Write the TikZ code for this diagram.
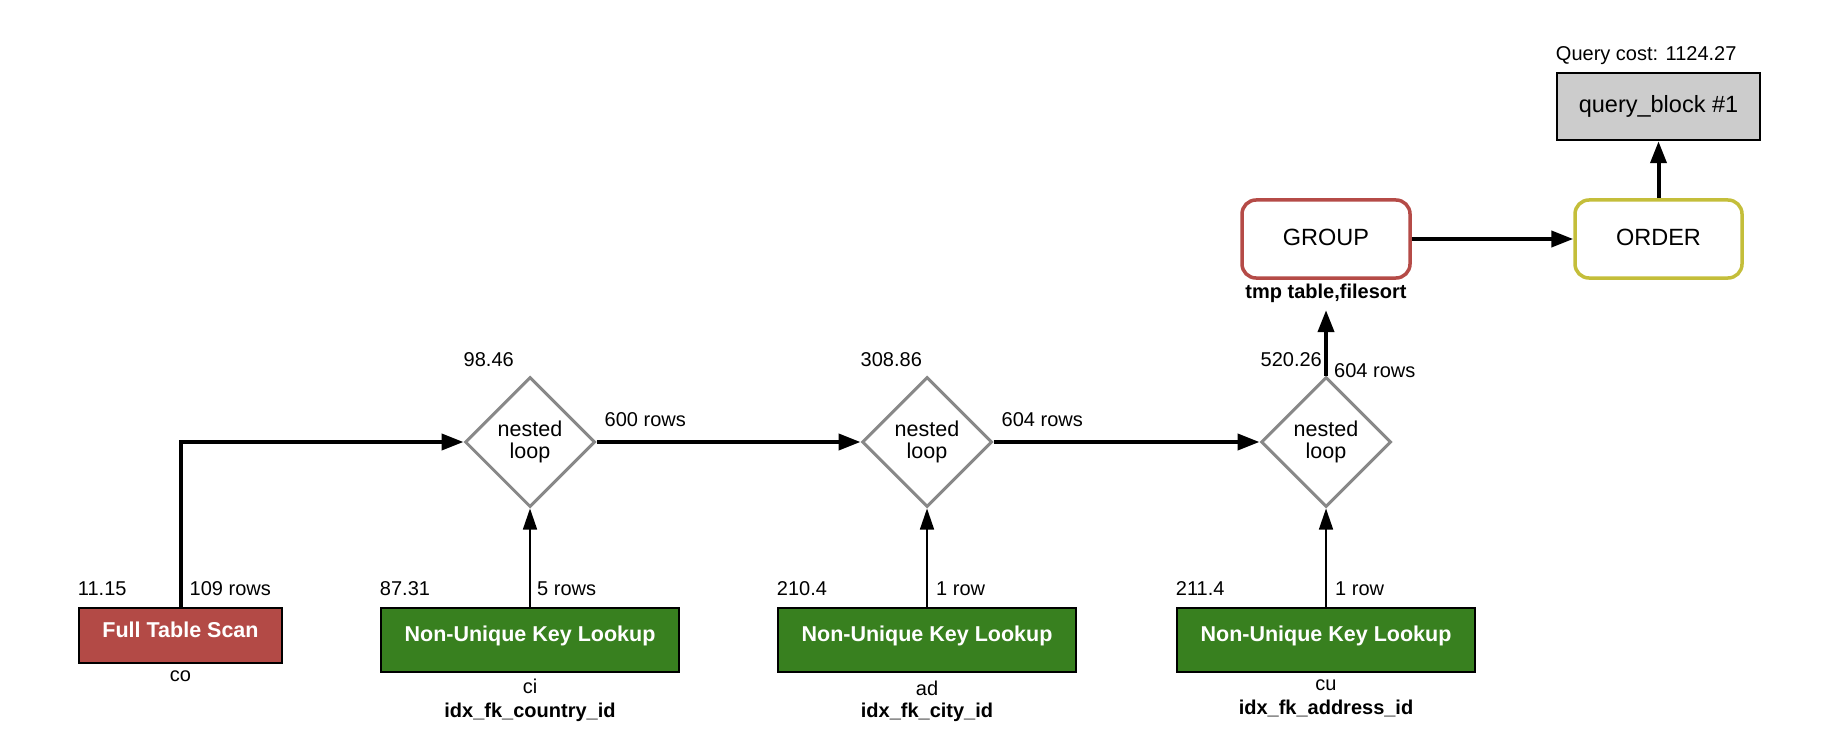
\documentclass[tikz,border=0pt]{standalone}
\usepackage{fontspec}
\setmainfont{Liberation Sans}
\usetikzlibrary{arrows.meta,shapes.geometric,positioning}
\definecolor{scanred}{HTML}{B34A46}
\definecolor{lookupgreen}{HTML}{38801F}
\definecolor{groupred}{HTML}{B54B47}
\definecolor{orderyellow}{HTML}{C4BE3A}
\definecolor{loopgray}{HTML}{888888}
\definecolor{blockgray}{HTML}{CCCCCC}
\def\lblfont{\fontsize{20pt}{22pt}\selectfont}
\tikzset{
	scanbox/.style={draw=black, line width=2.5pt, fill=scanred, text=white, font=\fontsize{21.5pt}{24pt}\selectfont\bfseries, minimum width=203pt, minimum height=55pt, inner sep=0pt, text depth=11pt},
	lookupbox/.style={draw=black, line width=2.5pt, fill=lookupgreen, text=white, font=\fontsize{21.5pt}{24pt}\selectfont\bfseries, minimum width=298pt, minimum height=64pt, inner sep=0pt, text depth=12.5pt},
	loopnode/.style={diamond, aspect=1, draw=loopgray, line width=3pt, align=center, font=\fontsize{21.5pt}{21.7pt}\selectfont, minimum width=130pt, minimum height=130pt, inner sep=0pt},
	opbox/.style={rounded corners=14pt, line width=3.5pt, fill=white, font=\fontsize{23.5pt}{26pt}\selectfont, minimum width=168pt, minimum height=78pt, inner sep=0pt, text depth=4pt},
	blockbox/.style={draw=black, line width=2.5pt, fill=blockgray, font=\fontsize{23.5pt}{26pt}\selectfont, minimum width=203pt, minimum height=67pt, inner sep=0pt},
	costlbl/.style={font=\lblfont, inner sep=0pt},
	tbllbl/.style={font=\lblfont, inner sep=0pt, anchor=base},
	keylbl/.style={font=\lblfont\bfseries, inner sep=0pt, anchor=base},
	thickline/.style={line width=4pt, -{Triangle[length=22pt,width=16pt]}},
	thinline/.style={line width=1.5pt, -{Triangle[length=21pt,width=14pt]}}
}

\begin{document}
\begin{tikzpicture}[x=1pt, y=-1pt]
			%%%%% START %%%%%
			\useasboundingbox (0,0) rectangle (1822,746);
			
			% top of the plan
			\node[blockbox] (qblock) at (1658.5, 106.5) {query\_block \#1};
			\node[costlbl, anchor=west] (qcost) at ([yshift=16pt]qblock.north west) {Query cost: 1124.27};
			
			\node[opbox, draw=groupred] (group) at (1326, 239) {GROUP};
			\node[opbox, draw=orderyellow, minimum width=167pt] (order) at (1658.5, 239) {ORDER};
			\node[font=\lblfont\bfseries, inner sep=0pt, minimum height=34pt] (grouptag) at (1326, 293) {tmp table,filesort};
			
			% nested loops
			\node[loopnode] (loop1) at (530, 442) {nested\\loop};
			\node[loopnode] (loop2) at (927, 442) {nested\\loop};
			\node[loopnode] (loop3) at (1326, 442) {nested\\loop};
			
			% tables
			\node[scanbox] (co) at (180.5, 635.5) {Full Table Scan};
			\node[lookupbox] (ci) at (530, 640) {Non-Unique Key Lookup};
			\node[lookupbox] (ad) at (927, 640) {Non-Unique Key Lookup};
			\node[lookupbox] (cu) at (1326, 640) {Non-Unique Key Lookup};
			
			% connectors
			\draw[thickline] (co.north) |- (loop1.west);
			\draw[thinline] (ci.north) -- (loop1.south);
			\draw[thinline] (ad.north) -- (loop2.south);
			\draw[thinline] (cu.north) -- (loop3.south);
			\draw[thickline] (loop1.east) -- (loop2.west);
			\draw[thickline] (loop2.east) -- (loop3.west);
			\draw[thickline] (loop3.north) -- (grouptag.south);
			\draw[thickline] (group.east) -- (order.west);
			\draw[thickline] (order.north) -- (qblock.south);
			
			% costs and rows
			\node[costlbl, anchor=west] (cocost) at ([yshift=18pt]co.north west) {11.15};
			\node[costlbl, anchor=west] (corows) at ([xshift=9pt, yshift=18pt]co.north) {109 rows};
			\node[costlbl, anchor=west] (cicost) at ([yshift=18pt]ci.north west) {87.31};
			\node[costlbl, anchor=west] (cirows) at ([xshift=7pt, yshift=18pt]ci.north) {5 rows};
			\node[costlbl, anchor=west] (adcost) at ([yshift=18pt]ad.north west) {210.4};
			\node[costlbl, anchor=west] (adrows) at ([xshift=9pt, yshift=18pt]ad.north) {1 row};
			\node[costlbl, anchor=west] (cucost) at ([yshift=18pt]cu.north west) {211.4};
			\node[costlbl, anchor=west] (curows) at ([xshift=9pt, yshift=18pt]cu.north) {1 row};
			
			\node[costlbl, anchor=west] (loop1cost) at ([yshift=16pt]loop1.west |- loop1.north) {98.46};
			\node[costlbl, anchor=west] (loop1rows) at ([xshift=8pt, yshift=22pt]loop1.east) {600 rows};
			\node[costlbl, anchor=west] (loop2cost) at ([yshift=16pt]loop2.west |- loop2.north) {308.86};
			\node[costlbl, anchor=west] (loop2rows) at ([xshift=8pt, yshift=22pt]loop2.east) {604 rows};
			\node[costlbl, anchor=east] (loop3cost) at ([xshift=-4pt, yshift=16pt]loop3.north) {520.26};
			\node[costlbl, anchor=west] (loop3rows) at ([xshift=8pt, yshift=5pt]loop3.north) {604 rows};
			
			% table names and keys
			\node[tbllbl] (coname) at ([yshift=-17pt]co.south) {co};
			\node[tbllbl] (ciname) at ([yshift=-20pt]ci.south) {ci};
			\node[keylbl] (cikey) at ([yshift=-44pt]ci.south) {idx\_fk\_country\_id};
			\node[tbllbl] (adname) at ([yshift=-22pt]ad.south) {ad};
			\node[keylbl] (adkey) at ([yshift=-44pt]ad.south) {idx\_fk\_city\_id};
			\node[tbllbl] (cuname) at ([yshift=-17pt]cu.south) {cu};
			\node[keylbl] (cukey) at ([yshift=-41pt]cu.south) {idx\_fk\_address\_id};
			%%%%% END %%%%%
\end{tikzpicture}
\end{document}
